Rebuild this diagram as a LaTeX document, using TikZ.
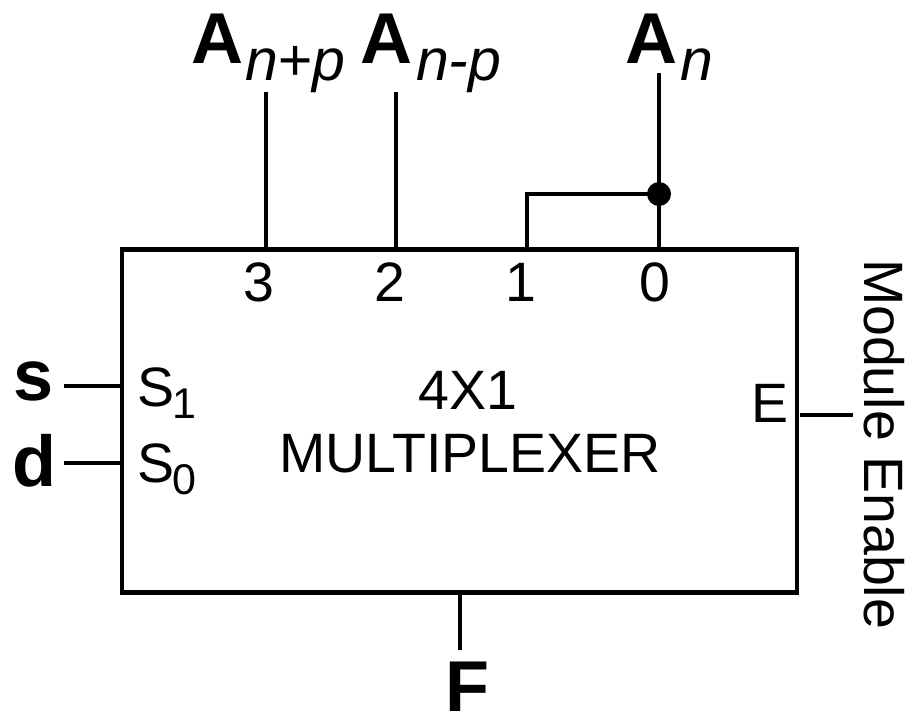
\documentclass[tikz,border=0pt]{standalone}
\usepackage{fontspec}
\setmainfont{Liberation Sans}
\newcommand{\fs}[1]{\fontsize{#1}{#1}\selectfont}
\tikzset{
  x=1pt,y=-1pt,
  wire/.style={line width=3.8pt,black},
  boxline/.style={line width=4.6pt,black},
  txt/.style={inner sep=0pt,outer sep=0pt,font=\fs{55.5}},
  big/.style={inner sep=0pt,outer sep=0pt,font=\fs{72}\bfseries},
  subs/.style={inner sep=0pt,outer sep=0pt,font=\fs{59}\itshape},
  sm/.style={inner sep=0pt,outer sep=0pt,font=\fs{43}},
  pin/.style={inner sep=0pt,outer sep=0pt,minimum size=0pt}
}
\begin{document}
\begin{tikzpicture}
\useasboundingbox (0,0) rectangle (907,715);
\node[draw,boxline,pin,minimum width=675pt,minimum height=343pt,anchor=north west] (mux) at (122,249.5) {};
% top labels
\node[big,anchor=base west] (a3) at (191,63) {A};
\node[subs,anchor=base west] (a3s) at (245,80) {n+p};
\node[big,anchor=base west] (a2) at (360,63) {A};
\node[subs,anchor=base west] (a2s) at (416,80) {n-p};
\node[big,anchor=base west] (a0) at (625,63) {A};
\node[subs,anchor=base west] (a0s) at (680,80) {n};
% pin labels
\node[txt,anchor=base] (p3) at (259,301) {3};
\node[txt,anchor=base] (p2) at (390,301) {2};
\node[txt,anchor=base] (p1) at (521,301) {1};
\node[txt,anchor=base] (p0) at (655,301) {0};
\node[txt,anchor=base] (title1) at (468,409) {4X1};
\node[txt,anchor=base] (title2) at (470,472) {MULTIPLEXER};
\node[txt,anchor=base west] (s1) at (137,406) {S};
\node[sm,anchor=base west] (s1i) at (172,418.5) {1};
\node[txt,anchor=base west] (s0) at (137,482) {S};
\node[sm,anchor=base west] (s0i) at (172,494) {0};
\node[txt,anchor=base] (e) at (770,422) {E};
\node[big,anchor=base] (s) at (34,400) {s};
\node[big,anchor=base] (d) at (34,486) {d};
\node[big,anchor=base] (f) at (467,711) {F};
\node[txt,rotate=-90,anchor=base west] (me) at (864,259) {Module Enable};
% connector anchors
\coordinate (t3) at (266,92);
\coordinate (b3) at (266,249.5);
\coordinate (t2) at (396,92);
\coordinate (b2) at (396,249.5);
\coordinate (t0) at (659,73);
\coordinate (b0) at (659,249.5);
\coordinate (j) at (659,194);
\coordinate (b1) at (527,249.5);
\coordinate (sl) at (64,386);
\coordinate (sr) at (122,386);
\coordinate (dl) at (64,463);
\coordinate (dr) at (122,463);
\coordinate (el) at (800,415);
\coordinate (er) at (853,415);
\coordinate (ft) at (460,592.5);
\coordinate (fb) at (460,650);
\draw[wire] (t3) -- (b3);
\draw[wire] (t2) -- (b2);
\draw[wire] (t0) -- (b0);
\draw[wire] (b1) -- (b1 |- j) -- (j);
\fill (j) circle (12pt);
\draw[wire] (sl) -- (sr);
\draw[wire] (dl) -- (dr);
\draw[wire] (el) -- (er);
\draw[wire] (ft) -- (fb);
\end{tikzpicture}
\end{document}
